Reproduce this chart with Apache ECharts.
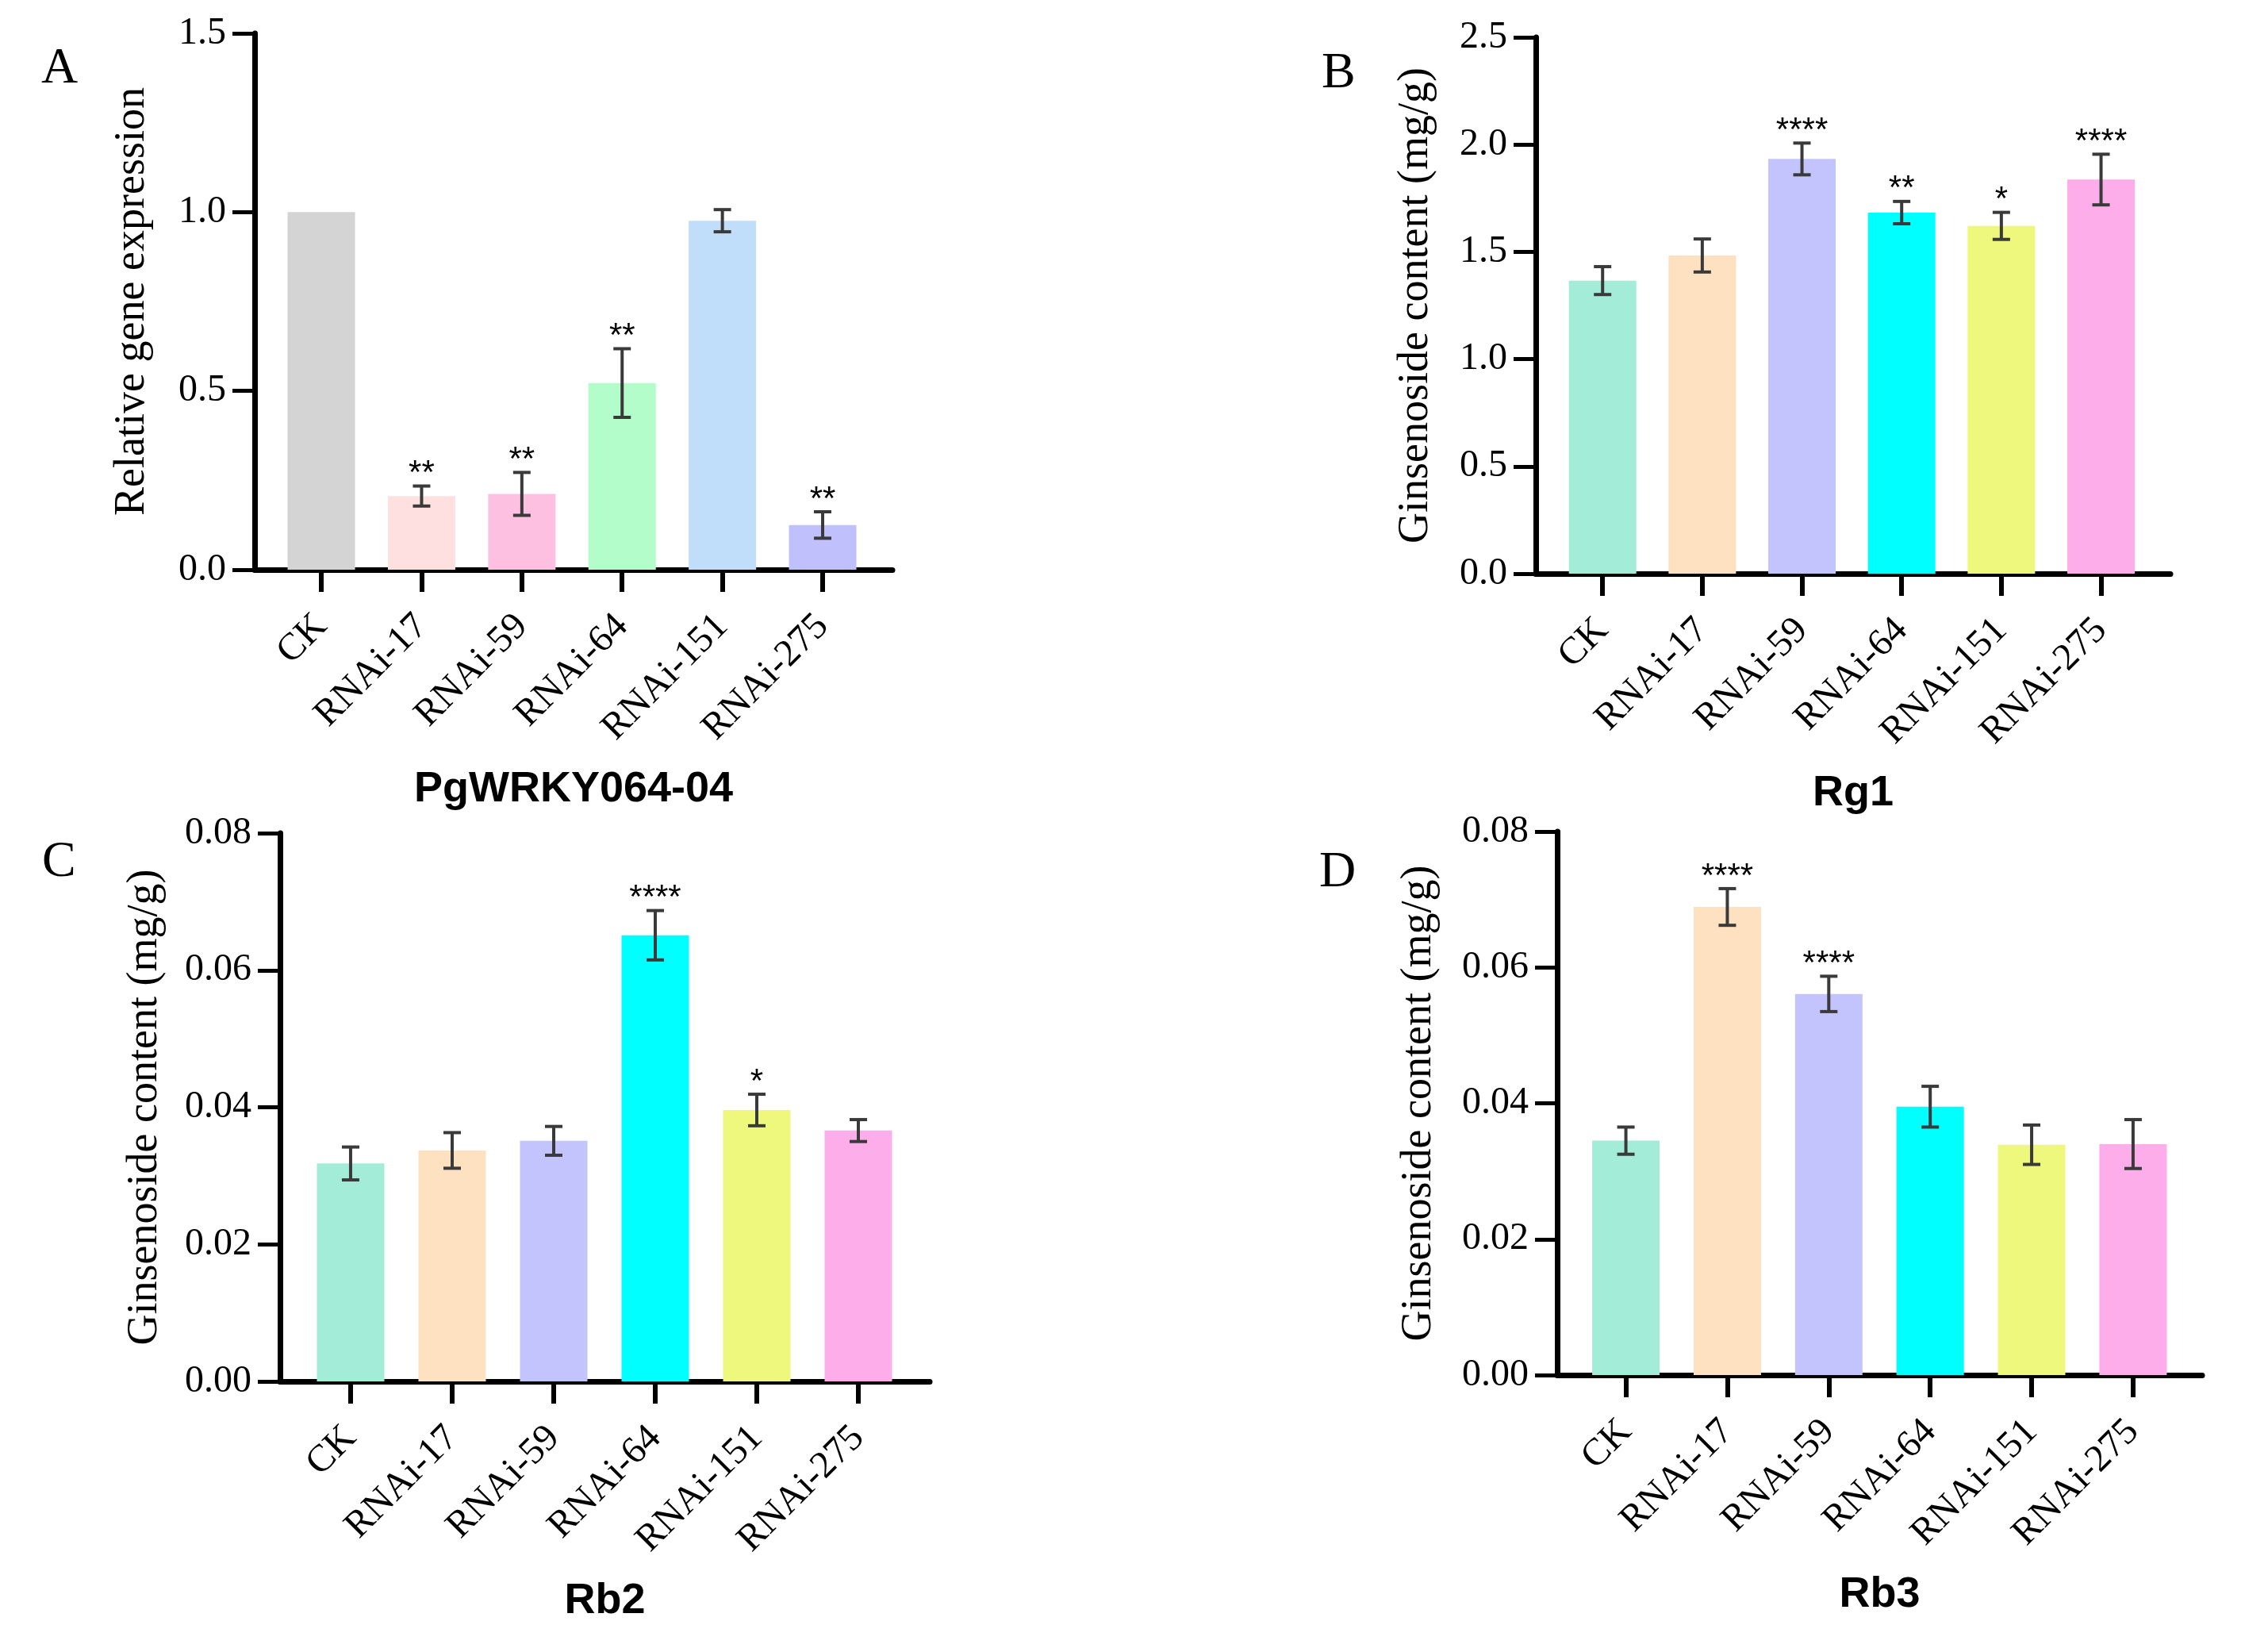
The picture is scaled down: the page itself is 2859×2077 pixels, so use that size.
<!DOCTYPE html>
<html>
<head>
<meta charset="utf-8">
<script src="https://cdn.jsdelivr.net/npm/echarts@6.0.0/dist/echarts.min.js"></script>
<style>
  html, body { margin: 0; padding: 0; background: #fff; }
  #chart { width: 2859px; height: 2077px; }
</style>
</head>
<body>
<div id="chart"></div>
<script type="text/javascript">
  // groups on the x axis (same for all four panels)
  var categories = ['CK', 'RNAi-17', 'RNAi-59', 'RNAi-64', 'RNAi-151', 'RNAi-275'];

  // A - relative expression of PgWRKY064-04
  var exprValues = [1.0, 0.206, 0.212, 0.522, 0.976, 0.125];
  var exprErrors = [0, 0.028, 0.060, 0.096, 0.031, 0.037];
  var exprSig = ['', '**', '**', '**', '', '**'];

  // B - Rg1 content
  var rg1Values = [1.366, 1.483, 1.933, 1.683, 1.621, 1.837];
  var rg1Errors = [0.065, 0.077, 0.074, 0.052, 0.063, 0.118];
  var rg1Sig = ['', '', '****', '**', '*', '****'];

  // C - Rb2 content
  var rb2Values = [0.0318, 0.0337, 0.0351, 0.0651, 0.0396, 0.0366];
  var rb2Errors = [0.0024, 0.0026, 0.0021, 0.0036, 0.0023, 0.0016];
  var rb2Sig = ['', '', '', '****', '*', ''];

  // D - Rb3 content
  var rb3Values = [0.0345, 0.0689, 0.0561, 0.0395, 0.0339, 0.0340];
  var rb3Errors = [0.0020, 0.0027, 0.0026, 0.0030, 0.0029, 0.0036];
  var rb3Sig = ['', '****', '****', '', '', ''];

  var exprColors = ['#d4d4d4', '#fee0e1', '#fdc0e0', '#b3fdcb', '#c0defa', '#c0c0fc'];
  var contentColors = ['#a3ecd8', '#fde1c1', '#c3c3fd', '#00ffff', '#eef87c', '#fcadea'];

  var panels = [
    { letter: 'A', letterPos: [52, 55], title: 'PgWRKY064-04', yName: 'Relative gene expression',
      values: exprValues, errors: exprErrors, sig: exprSig, colors: exprColors,
      yMax: 1.5, yStep: 0.5, digits: 1,
      left: 321, top: 42, width: 804, height: 676, xMin: -0.665, xMax: 5.696, nameGap: 127 },
    { letter: 'B', letterPos: [1666, 61], title: 'Rg1', yName: 'Ginsenoside content (mg/g)',
      values: rg1Values, errors: rg1Errors, sig: rg1Sig, colors: contentColors,
      yMax: 2.5, yStep: 0.5, digits: 1,
      left: 1936, top: 47, width: 800, height: 676, xMin: -0.670, xMax: 5.696, nameGap: 124 },
    { letter: 'C', letterPos: [53, 1055], title: 'Rb2', yName: 'Ginsenoside content (mg/g)',
      values: rb2Values, errors: rb2Errors, sig: rb2Sig, colors: contentColors,
      yMax: 0.08, yStep: 0.02, digits: 2,
      left: 353, top: 1050, width: 819, height: 691, xMin: -0.695, xMax: 5.703, nameGap: 143 },
    { letter: 'D', letterPos: [1663, 1068], title: 'Rb3', yName: 'Ginsenoside content (mg/g)',
      values: rb3Values, errors: rb3Errors, sig: rb3Sig, colors: contentColors,
      yMax: 0.08, yStep: 0.02, digits: 2,
      left: 1963, top: 1048, width: 813, height: 685, xMin: -0.677, xMax: 5.681, nameGap: 147 }
  ];

  var serif = '"Liberation Serif", "Times New Roman", serif';
  var sans = '"Liberation Sans", Arial, sans-serif';
  var tickPositions = [0, 1, 2, 3, 4, 5];

  var grids = [], xAxes = [], yAxes = [], seriesList = [], titles = [];

  panels.forEach(function (p, idx) {
    titles.push({
      text: p.letter, left: p.letterPos[0], top: p.letterPos[1], padding: 0,
      textStyle: { fontFamily: serif, fontSize: 64, fontWeight: 'normal', color: '#000' }
    });
    grids.push({ left: p.left, top: p.top, width: p.width, height: p.height, containLabel: false });
    xAxes.push({
      type: 'value', gridIndex: idx, min: p.xMin, max: p.xMax,
      name: p.title, nameLocation: 'middle', nameGap: 250,
      nameTextStyle: { fontFamily: sans, fontSize: 54, fontWeight: 'bold', color: '#000' },
      splitLine: { show: false },
      axisLine: { show: true, onZero: false, lineStyle: { color: '#000', width: 7 } },
      axisTick: { show: true, customValues: tickPositions, length: 28, lineStyle: { color: '#000', width: 6 } },
      axisLabel: {
        customValues: tickPositions, rotate: 45, margin: 64,
        fontFamily: serif, fontSize: 48, color: '#000',
        formatter: function (v) { return categories[Math.round(v)]; }
      }
    });
    yAxes.push({
      type: 'value', gridIndex: idx, min: 0, max: p.yMax, interval: p.yStep,
      name: p.yName, nameLocation: 'middle', nameGap: p.nameGap,
      nameTextStyle: { fontFamily: serif, fontSize: 54, color: '#000' },
      splitLine: { show: false },
      axisLine: { show: true, onZero: false, lineStyle: { color: '#000', width: 7 } },
      axisTick: { show: true, length: 28, lineStyle: { color: '#000', width: 5 } },
      axisLabel: {
        margin: 36, fontFamily: serif, fontSize: 48, color: '#000',
        formatter: function (v) { return v.toFixed(p.digits); }
      }
    });

    var barData = p.values.map(function (v, i) {
      return { value: [i, v], itemStyle: { color: p.colors[i] } };
    });
    seriesList.push({
      type: 'bar', xAxisIndex: idx, yAxisIndex: idx,
      barWidth: 85, data: barData, silent: true
    });

    var errData = p.values.map(function (v, i) { return [i, v, p.errors[i]]; });
    seriesList.push({
      type: 'custom', xAxisIndex: idx, yAxisIndex: idx, silent: true, z: 5,
      data: errData,
      renderItem: function (params, api) {
        var x = api.value(0), v = api.value(1), e = api.value(2);
        var top = api.coord([x, v + e]);
        var children = [];
        if (e > 0) {
          var bot = api.coord([x, v - e]);
          var st = { stroke: '#3a3a3a', lineWidth: 4 };
          var cap = 11;
          children.push({ type: 'line', shape: { x1: top[0], y1: top[1], x2: bot[0], y2: bot[1] }, style: st });
          children.push({ type: 'line', shape: { x1: top[0] - cap, y1: top[1], x2: top[0] + cap, y2: top[1] }, style: st });
          children.push({ type: 'line', shape: { x1: bot[0] - cap, y1: bot[1], x2: bot[0] + cap, y2: bot[1] }, style: st });
        }
        var s = p.sig[params.dataIndex];
        if (s) {
          children.push({
            type: 'text', x: top[0], y: top[1] + 6,
            style: { text: s, font: '42px ' + sans, fill: '#000', align: 'center', verticalAlign: 'bottom' }
          });
        }
        return { type: 'group', children: children };
      }
    });
  });

  var myChart = echarts.init(document.getElementById('chart'), null, { renderer: 'canvas' });
  myChart.setOption({
    backgroundColor: '#fff',
    animation: false,
    title: titles,
    grid: grids,
    xAxis: xAxes,
    yAxis: yAxes,
    series: seriesList
  });
</script>
</body>
</html>
